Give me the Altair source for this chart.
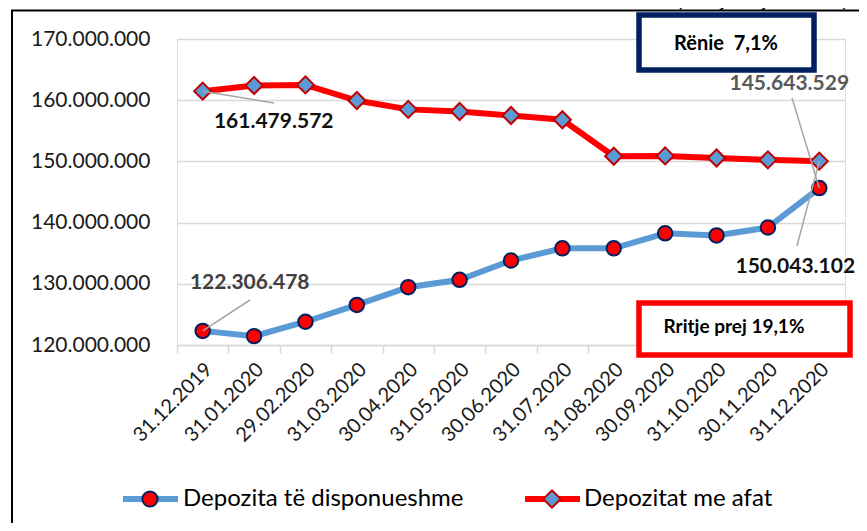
import altair as alt
import pandas as pd

# ---------------- data ----------------
dates = ["31.12.2019", "31.01.2020", "29.02.2020", "31.03.2020", "30.04.2020",
         "31.05.2020", "30.06.2020", "31.07.2020", "31.08.2020", "30.09.2020",
         "31.10.2020", "30.11.2020", "31.12.2020"]
demand = [122306478, 121450000, 123800000, 126550000, 129450000, 130650000,
          133800000, 135800000, 135800000, 138250000, 137900000, 139200000,
          145643529]
term = [161479572, 162400000, 162500000, 159950000, 158500000, 158150000,
        157500000, 156800000, 150850000, 150900000, 150550000, 150250000,
        150043102]
series_names = ["Depozita të disponueshme", "Depozitat me afat"]
y_ticks = [120000000, 130000000, 140000000, 150000000, 160000000, 170000000]

# annotated points
ann_series = ["term", "demand", "demand", "term"]
ann_dates = ["31.12.2019", "31.12.2019", "31.12.2020", "31.12.2020"]
ann_values = [161479572, 122306478, 145643529, 150043102]
ann_text = ["161.479.572", "122.306.478", "145.643.529", "150.043.102"]
ann_color = ["#111111", "#404040", "#595959", "#111111"]
ann_dx = [71, 47, -30, -24]
ann_dy = [31, -48, -104, 106]
lead_x2 = [97, 73, 615, 620]
lead_y2 = [64, 261, 59, 207]

box_texts = ["Rënie\u00a0\u00a07,1%", "Rritje prej 19,1%"]
unit_text = "(në një mijë denarë)"

W, H = 668, 306
FONT = "Lato"

demand_df = pd.DataFrame({"date": dates, "value": demand})
term_df = pd.DataFrame({"date": dates, "value": term})
ann_df = pd.DataFrame({"date": ann_dates, "value": ann_values, "text": ann_text,
                       "color": ann_color, "series": ann_series})
one = pd.DataFrame({"k": [0]})

x_enc = alt.X("date:N", sort=dates, bandPosition=0.5,
              scale=alt.Scale(type="band", paddingInner=0, paddingOuter=0),
              axis=alt.Axis(title=None, labelAngle=315, labelAlign="right",
                            labelBaseline="middle", labelPadding=13, labelOffset=6,
                            labelFont=FONT, labelFontSize=20, labelColor="#1a1a1a",
                            domainColor="#d9d9d9", domainWidth=1.5,
                            tickColor="#d9d9d9", tickWidth=1.5, tickSize=8,
                            tickBand="extent", grid=False, labelOverlap=False))
y_enc = alt.Y("value:Q",
              scale=alt.Scale(domain=[120000000, 170000000], nice=False, zero=False),
              axis=alt.Axis(title=None, values=y_ticks, ticks=False, domain=False,
                            labelPadding=27, labelFont=FONT, labelFontSize=21,
                            labelColor="#1a1a1a", gridColor="#d9d9d9", gridWidth=1.5,
                            labelExpr="replace(format(datum.value, ','), regexp(',', 'g'), '.')"))

blue_line = alt.Chart(demand_df).mark_line(color="#5b9bd5", strokeWidth=6).encode(x=x_enc, y=y_enc)
blue_pts = alt.Chart(demand_df).mark_point(shape="circle", filled=True, fill="#ff0000",
                                           stroke="#002060", strokeWidth=2, size=210,
                                           opacity=1).encode(x=x_enc, y=y_enc)
red_line = alt.Chart(term_df).mark_line(color="#ff0000", strokeWidth=6).encode(x=x_enc, y=y_enc)
red_pts = alt.Chart(term_df).mark_point(shape="diamond", filled=True, fill="#5b9bd5",
                                        stroke="#c00000", strokeWidth=2, size=290,
                                        opacity=1).encode(x=x_enc, y=y_enc)

leaders = []
labels = []
for i in range(len(ann_text)):
    d = ann_df.iloc[[i]]
    leaders.append(alt.Chart(d).mark_rule(color="#a6a6a6", strokeWidth=1.5).encode(
        x=x_enc, y=y_enc, x2=alt.value(lead_x2[i]), y2=alt.value(lead_y2[i])))
    labels.append(alt.Chart(d).mark_text(font=FONT, fontSize=21, fontWeight="bold",
                                         color=ann_color[i], dx=ann_dx[i], dy=ann_dy[i],
                                         align="center", baseline="middle").encode(
        x=x_enc, y=y_enc, text="text:N"))

# boxes
box1 = alt.Chart(one).mark_rect(fill="white", stroke="#002060", strokeWidth=5.5).encode(
    x=alt.value(462), x2=alt.value(637), y=alt.value(-24), y2=alt.value(31))
box1_t = alt.Chart(one).mark_text(font=FONT, fontSize=20, fontWeight="bold", color="#000000",
                                  align="center", baseline="middle", text=box_texts[0]).encode(
    x=alt.value(549), y=alt.value(5))
box2 = alt.Chart(one).mark_rect(fill="white", stroke="#ff0000", strokeWidth=5.5).encode(
    x=alt.value(462), x2=alt.value(673), y=alt.value(264), y2=alt.value(316))
box2_t = alt.Chart(one).mark_text(font=FONT, fontSize=19, fontWeight="bold", color="#000000",
                                  align="center", baseline="middle", text=box_texts[1]).encode(
    x=alt.value(557), y=alt.value(288))

# frame and unit text
frame_top = alt.Chart(one).mark_rule(color="#000000", strokeWidth=2).encode(
    x=alt.value(-166), x2=alt.value(720), y=alt.value(-28.5), y2=alt.value(-28.5))
frame_left = alt.Chart(one).mark_rule(color="#000000", strokeWidth=2).encode(
    x=alt.value(-165), x2=alt.value(-165), y=alt.value(-29), y2=alt.value(500))
unit = alt.Chart(one).mark_text(font=FONT, fontSize=20, color="#000000", align="left",
                                baseline="alphabetic", text=unit_text).encode(
    x=alt.value(500), y=alt.value(-32))

# legend (manual)
LY = 460
leg = [
    alt.Chart(one).mark_rule(color="#5b9bd5", strokeWidth=6).encode(
        x=alt.value(-54), x2=alt.value(1), y=alt.value(LY), y2=alt.value(LY)),
    alt.Chart(one).mark_point(shape="circle", filled=True, fill="#ff0000", stroke="#002060",
                              strokeWidth=2, size=230, opacity=1).encode(
        x=alt.value(-27), y=alt.value(LY)),
    alt.Chart(one).mark_text(font=FONT, fontSize=24, color="#000000", align="left",
                             baseline="middle", text=series_names[0]).encode(
        x=alt.value(6), y=alt.value(LY)),
    alt.Chart(one).mark_rule(color="#ff0000", strokeWidth=6).encode(
        x=alt.value(348), x2=alt.value(403), y=alt.value(LY), y2=alt.value(LY)),
    alt.Chart(one).mark_point(shape="diamond", filled=True, fill="#5b9bd5", stroke="#c00000",
                              strokeWidth=2, size=300, opacity=1).encode(
        x=alt.value(375), y=alt.value(LY)),
    alt.Chart(one).mark_text(font=FONT, fontSize=24, color="#000000", align="left",
                             baseline="middle", text=series_names[1]).encode(
        x=alt.value(407), y=alt.value(LY)),
]

chart = alt.layer(
    blue_line, blue_pts, red_line, red_pts, *leaders, *labels,
    box1, box1_t, box2, box2_t, frame_top, frame_left, unit, *leg
).properties(
    width=W, height=H,
    autosize=alt.AutoSizeParams(type="none"),
    padding={"left": 169, "top": 31, "right": 14, "bottom": 178},
).configure_view(stroke=None).configure(background="white")

chart.save("out.html", embed_options={"renderer": "svg", "actions": False})
